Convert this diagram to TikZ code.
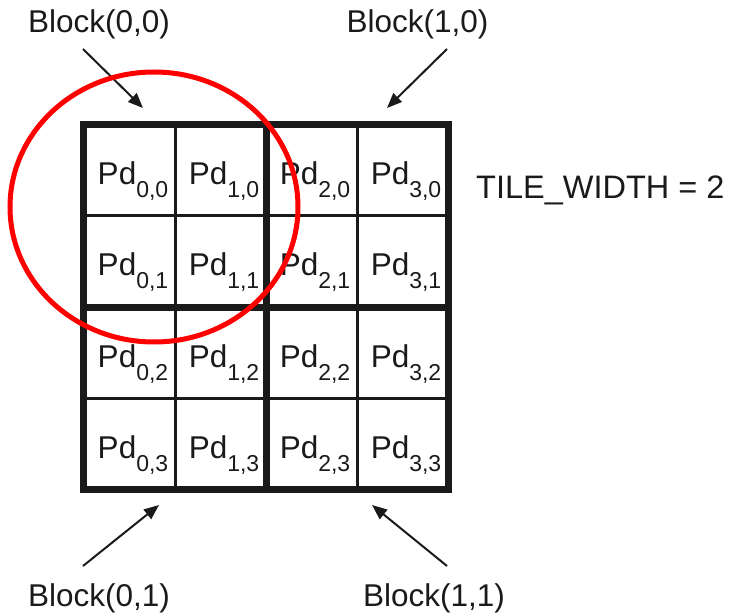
\documentclass[tikz,border=0pt]{standalone}
\usepackage{fontspec}
\setmainfont{Liberation Sans}
\usetikzlibrary{arrows.meta}
\definecolor{ink}{HTML}{1A1A1A}
\newcommand{\pdtxt}[2]{Pd{\fontsize{23}{23}\selectfont\raisebox{-13pt}{#1,#2}}}
\tikzset{
  thinline/.style={draw=ink, line width=3pt},
  thickline/.style={draw=ink, line width=7pt},
  celltext/.style={anchor=base, inner sep=0pt, font=\fontsize{31.5}{31.5}\selectfont, text=ink},
  lbl/.style={anchor=base, inner sep=0pt, font=\fontsize{31.5}{31.5}\selectfont, text=ink},
  pointer/.style={draw=ink, line width=2pt, -{Triangle[length=15pt,width=12pt]}},
  hilite/.style={draw=red, line width=5pt}
}
\begin{document}
\begin{tikzpicture}[x=1pt,y=-1pt]
\useasboundingbox (0,0) rectangle (729,615);
% thin grid lines
\draw[thinline] (175,125) -- (175,489);
\draw[thinline] (357,125) -- (357,489);
\draw[thinline] (83,216) -- (448,216);
\draw[thinline] (83,398) -- (448,398);
% thick block lines
\draw[thickline] (266,125) -- (266,489);
\draw[thickline] (83,307) -- (448,307);
\draw[thickline, line join=miter] (83,125) rectangle (448,489);
% cell texts
\foreach \i/\cx in {0/133,1/224,2/315,3/406}{
  \foreach \j/\ty in {0/125,1/216,2/307,3/398}{
    \node[celltext] (p\i\j) at (\cx,\ty+60) {\pdtxt{\i}{\j}};
  }
}
% labels
\node[lbl] (b00) at (99,33) {Block(0,0)};
\node[lbl] (b10) at (417.5,33) {Block(1,0)};
\node[lbl] (b01) at (99,606) {Block(0,1)};
\node[lbl] (b11) at (434,606) {Block(1,1)};
\node[lbl, anchor=base west, font=\fontsize{32.5}{32.5}\selectfont] (tw) at (476,199) {TILE\_WIDTH = 2};
% arrows
\coordinate (s00) at (83,49);   \coordinate (e00) at (143,108);
\coordinate (s10) at (447,49);  \coordinate (e10) at (387,108);
\coordinate (s01) at (83,566);  \coordinate (e01) at (159,505);
\coordinate (s11) at (447,566); \coordinate (e11) at (372,505);
\draw[pointer] (s00) -- (e00);
\draw[pointer] (s10) -- (e10);
\draw[pointer] (s01) -- (e01);
\draw[pointer] (s11) -- (e11);
% highlight ellipse
\draw[hilite] (154,207) ellipse [x radius=144, y radius=135];
\end{tikzpicture}
\end{document}
